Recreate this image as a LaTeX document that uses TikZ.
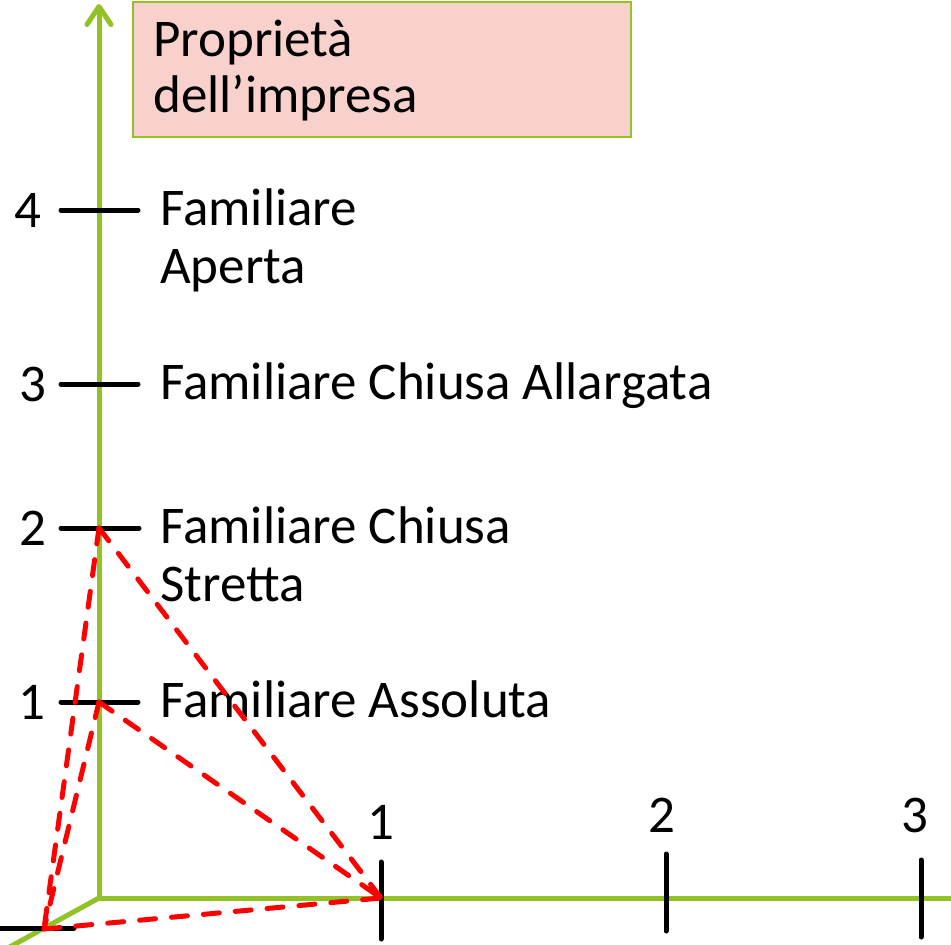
\documentclass[tikz,border=0pt]{standalone}
\usepackage{fontspec}
\setmainfont{Carlito}
\usetikzlibrary{arrows.meta}
\definecolor{axisgreen}{RGB}{146,194,38}
\definecolor{boxpink}{RGB}{248,208,204}
\definecolor{dashred}{RGB}{255,0,0}
\tikzset{
  axisline/.style={draw=axisgreen,line width=5pt},
  tickline/.style={draw=black,line width=5pt,line cap=round},
  reddash/.style={draw=dashred,line width=5pt,line cap=round,dash pattern=on 16pt off 16pt},
  lab/.style={inner sep=0pt,anchor=base west,font=\fontsize{53}{58}\selectfont,align=left},
  num/.style={inner sep=0pt,font=\fontsize{53}{58}\selectfont},
  titlebox/.style={draw=axisgreen,line width=2pt,fill=boxpink}
}
\begin{document}
\begin{tikzpicture}[x=1pt,y=-1pt]
\useasboundingbox (0,0) rectangle (951,945);
\clip (0,0) rectangle (951,945);
% axis points
\coordinate (O) at (99,898);
\coordinate (Ytop) at (99,4);
\coordinate (Xend) at (960,898);
\coordinate (Zend) at (-5,955);
% box
\draw[titlebox] (133,2) rectangle (631,137);
\node[lab] (title1) at (153,56) {Propriet\`a};
\node[lab] (title2) at (153,112) {dell’impresa};
% axes
\draw[axisline] (O) -- (Xend);
\draw[axisline] (O) -- (Zend);
\draw[axisline,line cap=round,-{Straight Barb[length=18pt,width=24pt,round]}] (O) -- (Ytop);
% tick coordinates
\coordinate (Y4) at (99,210);
\coordinate (Y3) at (99,384);
\coordinate (Y2) at (99,528);
\coordinate (Y1) at (99,702);
\coordinate (X1) at (381,898);
\coordinate (X2) at (666,892);
\coordinate (X3) at (921,898);
\coordinate (Z1) at (44,929);
% ticks
\draw[tickline] (61,210) -- (138,210);
\draw[tickline] (61,384) -- (138,384);
\draw[tickline] (61,528) -- (139,528);
\draw[tickline] (61,702) -- (138,702);
\draw[tickline] (381,862) -- (381,939);
\draw[tickline] (666,854) -- (666,931);
\draw[tickline] (921,860) -- (921,937);
\draw[tickline] (-5,928) -- (74,928);
% numbers
\node[num] (n4) at (28,210) {4};
\node[num] (n3) at (33,384) {3};
\node[num] (n2) at (33,528) {2};
\node[num] (n1) at (32,702) {1};
\node[num] (h1) at (381,822) {1};
\node[num] (h2) at (662,815) {2};
\node[num] (h3) at (915,815) {3};
% labels
\node[lab] (l4) at (160,283) {Familiare\\Aperta};
\node[lab] (l3) at (160,399) {Familiare Chiusa Allargata};
\node[lab] (l2) at (160,601) {Familiare Chiusa\\Stretta};
\node[lab] (l1) at (160,717) {Familiare Assoluta};
% red dashed links
\draw[reddash] (Y2) -- (X1);
\draw[reddash] (Y1) -- (X1);
\draw[reddash] (Y2) -- (Z1);
\draw[reddash] (Y1) -- (Z1);
\draw[reddash] (Z1) -- (X1);
\end{tikzpicture}
\end{document}
